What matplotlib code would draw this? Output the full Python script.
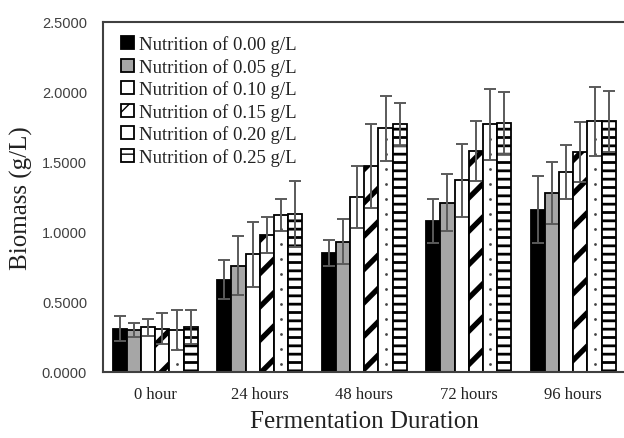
import numpy as np
import matplotlib
matplotlib.use("Agg")
import matplotlib.pyplot as plt

# 資料
categories = ["0 hour", "24 hours", "48 hours", "72 hours", "96 hours"]
series_labels = ["Nutrition of 0.00 g/L", "Nutrition of 0.05 g/L", "Nutrition of 0.10 g/L",
                 "Nutrition of 0.15 g/L", "Nutrition of 0.20 g/L", "Nutrition of 0.25 g/L"]

n000 = [0.31, 0.66, 0.85, 1.08, 1.16]
n005 = [0.30, 0.76, 0.93, 1.21, 1.28]
n010 = [0.32, 0.84, 1.25, 1.37, 1.43]
n015 = [0.31, 0.98, 1.47, 1.58, 1.57]
n020 = [0.30, 1.12, 1.74, 1.77, 1.79]
n025 = [0.32, 1.13, 1.77, 1.78, 1.79]

e000 = [0.09, 0.14, 0.09, 0.155, 0.24]
e005 = [0.05, 0.21, 0.16, 0.205, 0.22]
e010 = [0.06, 0.235, 0.22, 0.26, 0.195]
e015 = [0.11, 0.13, 0.30, 0.215, 0.215]
e020 = [0.14, 0.115, 0.23, 0.255, 0.245]
e025 = [0.12, 0.235, 0.155, 0.22, 0.215]

y_ticks = [0.0, 0.5, 1.0, 1.5, 2.0, 2.5]

means = [n000, n005, n010, n015, n020, n025]
errs = [e000, e005, e010, e015, e020, e025]

# 樣式
faces = ["black", "#a6a6a6", "white", "white", "white", "white"]
hatches = [None, None, None, "/", None, "--"]
hatch_lw = [1.0, 1.0, 1.0, 3.8, 1.0, 2.0]
dotted = 4  # 0.20 g/L 的點狀填充

serif = "Liberation Serif"
sans = "Liberation Sans"

fig = plt.figure(figsize=(6.24, 4.39), dpi=100)
ax = fig.add_axes([103 / 624, 1 - 373 / 439, 522.5 / 624, 350 / 439])

x = np.arange(len(categories))
width = 0.136
n = len(means)

for i in range(n):
    pos = x + (i - (n - 1) / 2) * width
    with plt.rc_context({"hatch.linewidth": hatch_lw[i]}):
        bars = ax.bar(pos, means[i], width, color=faces[i], edgecolor="black",
                      linewidth=1.3, hatch=hatches[i], label=series_labels[i], zorder=2)
        for b in bars:
            if hasattr(b, "set_hatch_linewidth"):
                b.set_hatch_linewidth(hatch_lw[i])
    if i == dotted:
        # 每根柱子中間一列小點
        for px, h in zip(pos, means[i]):
            ys = np.arange(0.06, h - 0.03, 0.107)
            ax.scatter(np.full(len(ys), px), ys, s=4, color="#444444", zorder=2.5, linewidths=0)

for i in range(n):
    pos = x + (i - (n - 1) / 2) * width
    ax.errorbar(pos, means[i], yerr=errs[i], fmt="none", ecolor="#5a5a5a",
                elinewidth=1.4, capsize=4, capthick=1.4, zorder=3)

ax.set_xlim(-0.5, len(categories) - 0.5)
ax.set_ylim(0, 2.5)
ax.set_yticks(y_ticks)
ax.set_yticklabels([f"{v:.4f}" for v in y_ticks], fontfamily=sans, fontsize=10.5, color="#404040")
ax.set_xticks(x)
ax.set_xticklabels(categories, fontfamily=serif, fontsize=12, color="#222222")
ax.tick_params(axis="both", length=0)
ax.tick_params(axis="y", pad=11.5)
ax.tick_params(axis="x", pad=10)

ax.set_xlabel("Fermentation Duration", fontfamily=serif, fontsize=18, color="#222222", labelpad=6)
ax.set_ylabel("Biomass (g/L)", fontfamily=serif, fontsize=18, color="#222222", labelpad=6)

for s in ["left", "bottom", "top"]:
    ax.spines[s].set_color("#404040")
    ax.spines[s].set_linewidth(1.5)
ax.spines["right"].set_visible(False)

leg = ax.legend(loc="upper left", bbox_to_anchor=(0.0345, 0.962), frameon=False,
                prop={"family": serif, "size": 13.5}, handlelength=0.7, handleheight=0.7,
                handletextpad=0.25, labelspacing=0.25, borderaxespad=0, borderpad=0)
for t in leg.get_texts():
    t.set_color("#222222")

fig.savefig("out.png", dpi=100)
